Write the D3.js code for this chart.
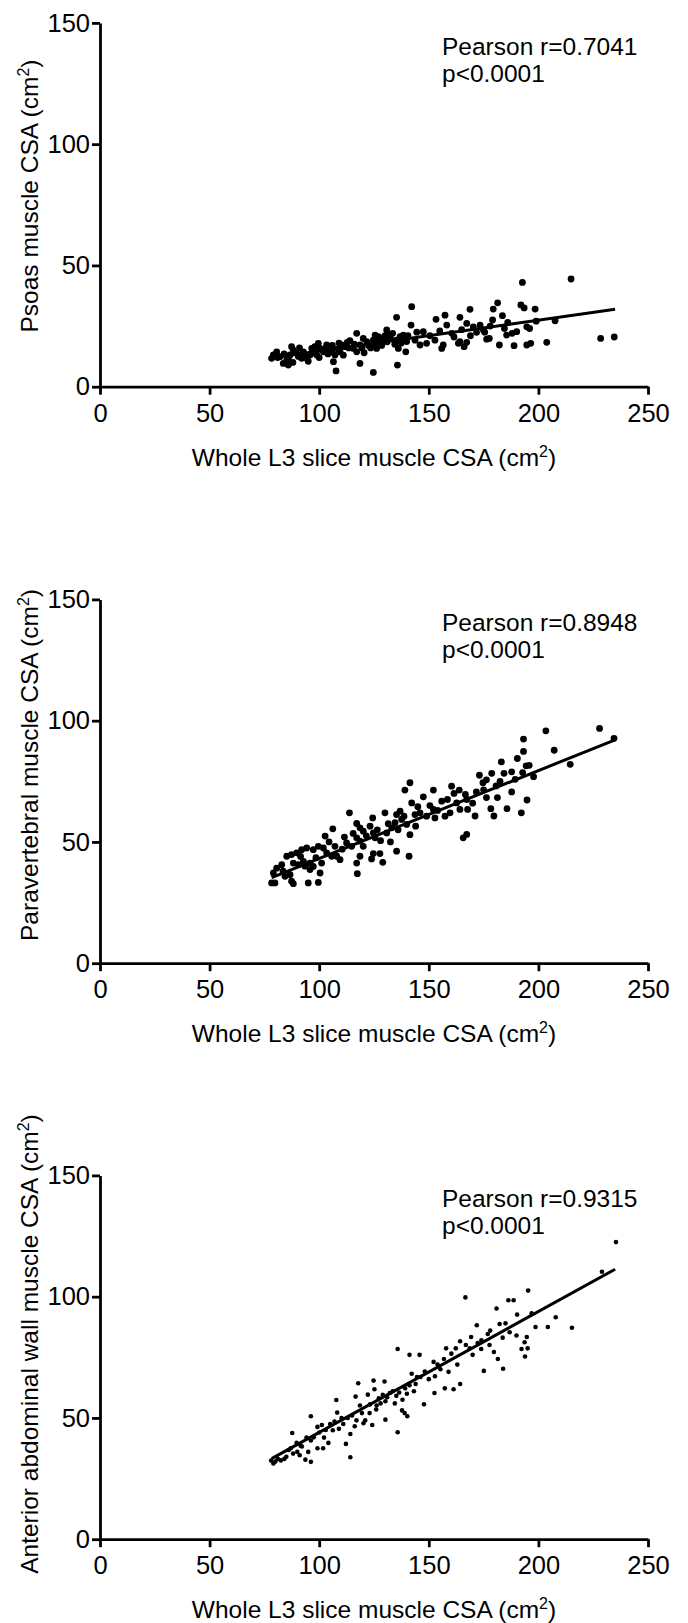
<!DOCTYPE html>
<html><head><meta charset="utf-8">
<script src="https://cdn.jsdelivr.net/npm/d3@7"></script>
<style>
body{margin:0;background:#fff}
svg{display:block;background:#fff}
text{font-family:"Liberation Sans",Arial,Helvetica,sans-serif;fill:#000}
</style>
</head><body><svg id="chart" width="688" height="1623"></svg>
<script>
// ---------- data ----------
const xTicks = [0, 50, 100, 150, 200, 250];
const yTicks = [0, 50, 100, 150];
const xTitle = "Whole L3 slice muscle CSA (cm";

const psoasPoints = [[78.3,11.7],[79.1,13.1],[80.6,14.4],[82.1,12.4],[83.6,9.6],[85.9,8.9],[85.2,11.0],[86.7,13.1],[87.4,16.5],[88.2,15.1],[89.7,13.8],[92.0,11.7],[92.8,14.4],[94.3,11.7],[95.8,13.1],[96.6,15.8],[98.9,13.1],[99.6,17.9],[100.4,15.8],[101.9,14.4],[103.4,17.2],[104.9,16.5],[105.7,14.4],[107.2,13.1],[106.5,10.3],[107.7,6.5],[109.5,14.4],[110.3,17.2],[111.8,16.5],[112.8,18.3],[115.6,15.8],[117.1,14.4],[118.6,17.2],[121.7,18.6],[120.1,19.9],[117.1,22.0],[118.6,9.6],[124.7,5.9],[126.2,15.8],[127.7,17.9],[124.7,19.2],[125.5,21.3],[127.0,20.6],[129.3,19.9],[131.5,21.3],[130.8,23.4],[135.3,19.2],[136.9,20.6],[138.4,21.3],[136.1,15.8],[135.7,8.9],[139.5,14.4],[139.9,18.6],[143.7,19.2],[146.0,17.2],[149.0,17.9],[152.8,19.2],[155.9,15.8],[156.6,17.2],[163.5,17.9],[166.1,16.5],[167.3,18.3],[164.2,18.6],[171.8,22.4],[174.9,23.4],[173.4,25.4],[170.3,24.7],[167.3,26.1],[158.2,25.4],[147.5,22.7],[141.9,25.4],[135.3,28.6],[142.2,33.0],[153.3,27.8],[157.4,29.5],[164.2,28.6],[168.8,31.9],[179.4,32.0],[181.4,34.6],[183.6,29.3],[179.1,27.5],[177.6,19.9],[176.4,19.6],[182.2,17.2],[185.5,21.3],[188.9,16.9],[190.1,22.7],[194.7,24.7],[194.7,17.2],[196.5,17.9],[192.0,33.7],[193.5,32.5],[192.7,43.0],[198.5,32.0],[203.8,18.3],[207.6,27.2],[214.9,44.4],[228.4,19.9],[234.6,20.5],
[81.0,12.0],[84.0,13.5],[86.0,12.0],[88.0,10.0],[90.5,12.5],[91.0,16.0],[93.5,13.0],[95.0,10.5],[97.5,14.0],[98.0,16.5],[100.0,12.0],[102.5,15.5],[104.0,13.5],[106.0,17.0],[108.5,15.5],[109.0,18.0],[111.0,13.0],[113.5,16.0],[114.0,19.0],[116.0,17.5],[119.5,16.0],[120.5,14.0],[122.5,17.0],[123.5,16.0],[125.0,17.5],[126.5,19.0],[128.5,17.0],[130.0,21.0],[131.0,18.5],[132.5,20.0],[133.5,22.0],[134.5,17.5],[137.5,18.0],[140.5,21.0],[144.5,22.5],[150.5,21.0],[155.0,23.0],[160.5,22.0],[161.5,20.5],[165.0,23.5],[169.0,21.0],[175.5,22.5],[178.0,25.0],[184.5,24.0],[186.0,26.5],[188.0,22.0],[196.0,24.0],[199.0,27.0]];
const psoasFit = [[78.3, 11.9], [235.0, 31.9]];

const paraPoints = [[78.3,33.1],[79.8,33.1],[79.1,37.2],[80.6,39.2],[82.9,40.6],[84.4,35.8],[86.7,36.5],[87.4,33.8],[88.2,32.8],[85.2,44.1],[87.4,44.8],[89.7,45.5],[88.2,41.3],[90.5,40.6],[92.0,46.8],[92.8,42.0],[94.3,47.5],[95.8,41.3],[95.8,38.6],[95.0,33.1],[97.3,46.8],[97.3,39.9],[99.6,48.2],[99.6,33.3],[100.4,37.2],[101.1,41.3],[101.9,47.5],[102.7,52.4],[103.4,45.5],[105.7,44.1],[106.2,55.4],[107.2,48.2],[108.0,44.1],[109.5,42.7],[112.5,49.6],[113.8,62.0],[114.8,48.2],[117.1,51.7],[117.1,57.6],[117.1,41.3],[117.4,36.9],[118.6,44.1],[118.6,50.3],[118.6,55.8],[120.1,48.2],[120.1,54.4],[123.2,56.5],[123.9,43.0],[124.4,59.9],[124.7,45.2],[124.7,53.7],[125.5,51.7],[127.7,45.2],[129.0,41.6],[130.0,62.0],[130.8,53.7],[133.1,55.8],[134.6,57.9],[135.3,61.3],[135.3,46.2],[136.9,62.7],[137.6,59.3],[138.7,60.6],[139.1,71.4],[139.9,57.2],[141.0,44.1],[141.4,74.4],[141.4,53.0],[142.2,66.1],[143.7,61.3],[144.0,56.5],[146.0,62.0],[147.5,68.6],[149.0,60.6],[152.1,71.4],[152.1,63.4],[152.8,59.9],[155.9,66.8],[157.4,60.6],[159.7,62.0],[160.4,73.0],[162.7,66.1],[163.9,71.4],[164.2,63.4],[165.7,51.7],[167.3,53.1],[167.3,67.5],[166.7,69.6],[167.7,63.4],[171.1,60.7],[171.7,70.6],[173.1,77.5],[174.7,74.4],[176.3,75.6],[176.3,68.3],[178.3,63.7],[179.7,60.7],[178.7,78.3],[180.7,73.1],[181.3,68.3],[183.1,83.0],[184.3,78.3],[185.7,63.7],[187.8,78.9],[187.8,70.6],[189.4,75.8],[190.4,84.4],[192.2,62.0],[192.8,78.6],[193.2,87.3],[193.2,92.4],[194.4,81.4],[194.8,67.3],[195.8,81.6],[197.8,76.9],[203.4,95.8],[207.2,87.8],[214.5,82.0],[227.9,96.8],[234.5,92.7],
[83.5,38.0],[91.5,44.0],[93.5,40.0],[98.5,43.5],[104.5,50.0],[110.5,47.0],[111.5,52.0],[115.5,53.5],[121.5,52.5],[126.5,55.0],[128.0,50.5],[131.5,57.5],[132.5,50.0],[136.0,55.0],[145.0,64.5],[150.5,65.0],[154.0,63.0],[158.5,67.5],[161.5,70.0],[170.0,66.0],[175.0,71.5],[182.5,75.0]];
const paraFit = [[78.3, 35.3], [235.0, 92.1]];

const abdoPoints = [[78.1,32.4],[79.1,31.2],[81.1,33.1],[84.1,33.1],[86.1,36.8],[87.7,43.8],[88.1,35.3],[89.7,39.7],[91.1,34.6],[92.1,38.2],[93.7,32.8],[94.2,41.9],[96.2,31.9],[96.2,40.7],[96.2,50.7],[99.2,37.5],[99.2,46.3],[101.2,47.1],[101.8,37.5],[102.2,41.9],[104.2,39.7],[106.2,44.9],[107.8,57.4],[108.2,52.2],[110.2,50.0],[112.2,39.3],[114.2,33.8],[114.2,43.4],[116.2,46.6],[116.6,58.8],[117.8,64.3],[118.6,55.1],[120.2,47.8],[122.2,59.6],[123.2,55.6],[124.2,47.1],[124.8,65.4],[125.2,61.8],[126.2,55.1],[127.2,58.1],[129.8,65.0],[130.2,56.9],[130.2,49.3],[132.2,60.3],[135.2,59.1],[135.8,44.1],[135.8,78.4],[137.8,53.1],[139.2,62.2],[140.2,50.7],[141.2,63.5],[141.2,76.0],[142.2,68.2],[143.2,61.0],[144.6,66.9],[145.8,76.0],[146.2,66.9],[147.8,55.6],[148.2,69.1],[152.2,73.1],[152.6,60.3],[152.8,67.2],[155.3,70.1],[156.9,74.3],[157.3,62.2],[157.9,78.7],[160.3,76.5],[161.3,61.8],[162.3,78.7],[164.3,64.0],[164.3,81.6],[166.7,99.7],[166.9,80.1],[168.7,78.7],[169.3,83.4],[171.9,88.2],[172.3,80.9],[173.9,78.4],[175.1,69.4],[176.9,84.6],[177.7,80.1],[179.7,77.2],[180.9,95.1],[181.5,74.3],[182.3,88.7],[183.7,83.1],[183.9,70.3],[186.3,98.5],[186.9,85.3],[188.7,98.5],[190.3,92.6],[192.3,78.4],[193.7,81.2],[193.9,75.3],[194.7,83.4],[195.1,78.7],[195.3,102.5],[196.9,93.1],[198.7,87.5],[204.3,87.5],[207.9,91.5],[215.3,87.2],[229.0,110.3],[235.4,122.5],
[80.0,32.0],[82.5,32.5],[85.0,34.0],[87.0,37.5],[90.0,36.0],[91.5,38.5],[95.0,36.0],[97.5,42.0],[100.0,44.0],[103.0,45.0],[105.0,47.5],[107.0,48.5],[109.0,45.5],[111.0,47.5],[113.0,50.0],[115.0,51.0],[117.0,49.0],[119.5,52.0],[121.0,49.0],[123.0,52.0],[126.0,53.5],[128.0,56.0],[129.0,59.5],[131.0,58.5],[133.5,61.0],[134.5,56.0],[136.5,60.5],[138.0,57.5],[139.0,52.0],[140.0,60.0],[144.0,64.0],[150.0,66.0],[154.0,72.0],[159.0,69.0],[163.0,72.0],[170.0,76.0],[174.0,82.0],[178.0,86.0],[185.0,89.0],[190.0,84.0]];
const abdoFit = [[78.3, 33.2], [235.0, 111.3]];

const yTitles = ["Psoas muscle CSA (cm", "Paravertebral muscle CSA (cm", "Anterior abdominal wall muscle CSA (cm"];
const rTexts = ["Pearson r=0.7041", "Pearson r=0.8948", "Pearson r=0.9315"];
const pTexts = ["p<0.0001", "p<0.0001", "p<0.0001"];

// ---------- layout ----------
const layout = [
  {points: psoasPoints, fit: psoasFit, bottom: 386.7, titleMid: 196, dotR: 3.4},
  {points: paraPoints,  fit: paraFit,  bottom: 963.2, titleMid: 765, dotR: 3.4},
  {points: abdoPoints,  fit: abdoFit,  bottom: 1539.2, titleMid: 1344, dotR: 2.3}
];
const plotH = 363.8;
const x = d3.scaleLinear().domain([0, 250]).range([100, 648]);
const svg = d3.select("#chart");
const FONT = '"Liberation Sans", Arial, Helvetica, sans-serif';

layout.forEach((P, i) => {
  const y = d3.scaleLinear().domain([0, 150]).range([P.bottom, P.bottom - plotH]);
  const g = svg.append("g");

  // x axis
  const gx = g.append("g").attr("transform", `translate(0,${P.bottom})`)
    .call(d3.axisBottom(x).tickValues(xTicks).tickSize(8).tickSizeOuter(0).tickPadding(9).tickFormat(d3.format("d")));
  // y axis
  const gy = g.append("g").attr("transform", `translate(${x(0)},0)`)
    .call(d3.axisLeft(y).tickValues(yTicks).tickSize(8).tickSizeOuter(0).tickPadding(2).tickFormat(d3.format("d")));
  [gx, gy].forEach(a => {
    a.attr("font-family", FONT).attr("font-size", 25.5);
    a.selectAll("path.domain").attr("stroke", "#000").attr("stroke-width", 2.8);
    a.selectAll(".tick line").attr("stroke", "#000").attr("stroke-width", 2.8);
    a.selectAll(".tick text").attr("fill", "#000");
  });

  // x title
  const xt = g.append("text").attr("x", 374).attr("y", P.bottom + 79)
    .attr("text-anchor", "middle").attr("font-size", 24.5);
  xt.append("tspan").text(xTitle);
  xt.append("tspan").attr("font-size", 16).attr("dy", -9).text("2");
  xt.append("tspan").attr("dy", 9).text(")");

  // y title
  const yt = g.append("text").attr("transform", `translate(38,${P.titleMid}) rotate(-90)`)
    .attr("text-anchor", "middle").attr("font-size", 24.5);
  yt.append("tspan").text(yTitles[i]);
  yt.append("tspan").attr("font-size", 16).attr("dy", -9).text("2");
  yt.append("tspan").attr("dy", 9).text(")");

  // annotation
  const top = P.bottom - plotH;
  g.append("text").attr("x", 442).attr("y", top + 32).attr("font-size", 24.5).text(rTexts[i]);
  g.append("text").attr("x", 442).attr("y", top + 59).attr("font-size", 24.5).text(pTexts[i]);

  // dots
  g.append("g").selectAll("circle").data(P.points).join("circle")
    .attr("cx", d => x(d[0])).attr("cy", d => y(d[1])).attr("r", P.dotR).attr("fill", "#000");

  // regression line
  g.append("path").datum(P.fit)
    .attr("d", d3.line().x(d => x(d[0])).y(d => y(d[1])))
    .attr("fill", "none").attr("stroke", "#000").attr("stroke-width", 3);
});
</script>
</body></html>
